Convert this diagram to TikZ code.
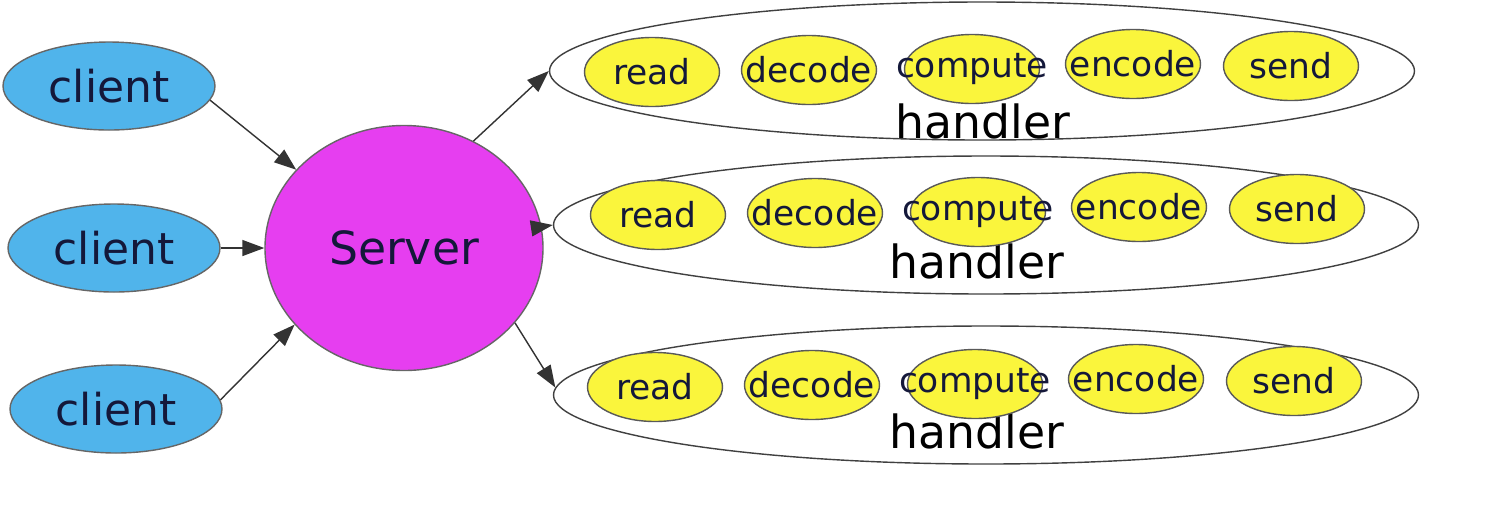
\documentclass[tikz,border=0pt]{standalone}
\usepackage{fontspec}
\setmainfont{DejaVu Sans}
\usetikzlibrary{shapes.geometric,arrows.meta}
\definecolor{clientblue}{RGB}{80,180,235}
\definecolor{servermagenta}{RGB}{230,62,240}
\definecolor{stageyellow}{RGB}{250,245,60}
\definecolor{textnavy}{RGB}{20,24,58}
\begin{document}
\begin{tikzpicture}[>={Triangle[length=2.2mm,width=1.6mm]}]
\tikzstyle{every node}=[font=\fontsize{12.5}{15}\selectfont, text=textnavy]
\tikzstyle{client}=[ellipse, draw=black!60, fill=clientblue, minimum width=2.12cm, minimum height=0.88cm, inner sep=1pt]
\tikzstyle{server}=[ellipse, draw=black!60, fill=servermagenta, minimum width=2.78cm, minimum height=2.45cm, font=\fontsize{13}{15}\selectfont]
\tikzstyle{handler}=[ellipse, draw=black!75, minimum width=8.65cm, minimum height=1.38cm]
\tikzstyle{handlertext}=[font=\fontsize{13}{15}\selectfont, text=black]
\tikzstyle{stage}=[ellipse, draw=black!65, fill=stageyellow, minimum width=1.35cm, minimum height=0.69cm, inner sep=1pt, font=\fontsize{9.8}{12}\selectfont]
\tikzstyle{link}=[->, line width=0.4pt, black!80]

% keep the page at the size of the screenshot
\useasboundingbox (0,0) rectangle (14.94,5.04);

% draw clients
\node[client] (c1) at (1.09,4.18) {client};
\node[client] (c2) at (1.14,2.56) {client};
\node[client] (c3) at (1.16,0.95) {client};

% draw the server
\node[server] (server) at (4.04,2.56) {Server};

% draw handlers
\node[handler] (h1) at (9.82,4.33) {};
\node[handler] (h2) at (9.86,2.79) {};
\node[handler] (h3) at (9.86,1.09) {};
\node[handlertext] (h1label) at (9.83,3.83) {handler};
\node[handlertext] (h2label) at (9.77,2.43) {handler};
\node[handlertext] (h3label) at (9.77,0.73) {handler};

% stages inside every handler
\foreach \row/\bx/\by in {1/6.52/4.32, 2/6.58/2.89, 3/6.55/1.17}
	\foreach \step/\dx/\dy in {read/0/0, decode/1.57/0.02, compute/3.20/0.03, encode/4.81/0.08, send/6.39/0.06}
		\node[stage] (\step\row) at ({\bx+\dx},{\by+\dy}) {\makebox[0pt]{\step}};

% connect clients to the server
\draw[link] (c1.-8) -- (server.144);
\draw[link] (c2) -- (server);
\draw[link] (c3.5) -- (server.215);

% connect the server to the handlers
\draw[link] (server.57) -- (h1.west);
\draw[link] (server) -- (h2.west);
\draw[link] (server.-34) -- (h3.179);

\end{tikzpicture}
\end{document}
